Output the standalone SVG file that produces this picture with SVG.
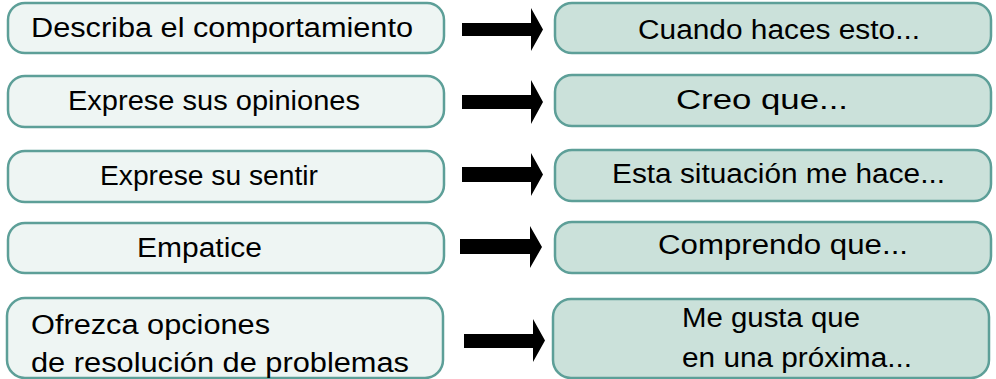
<svg xmlns="http://www.w3.org/2000/svg" width="996" height="379" viewBox="0 0 996 379">
<style>
.l{fill:#eef5f3;stroke:#5d9f98;stroke-width:2.5}
.r{fill:#cbe1da;stroke:#5d9f98;stroke-width:2.5}
.t{font-family:"Liberation Sans",Arial,sans-serif;font-size:27px;fill:#000}
.a{fill:#000}
</style>
<rect width="996" height="379" fill="#fff"/>
<g id="n1"><rect class="l" x="8" y="3" width="436" height="50" rx="17"/><text class="t" x="31" y="37" textLength="382" lengthAdjust="spacingAndGlyphs">Describa el comportamiento</text></g>
<g id="n2"><rect class="l" x="8" y="76" width="436" height="51" rx="17"/><text class="t" x="68" y="110" textLength="292" lengthAdjust="spacingAndGlyphs">Exprese sus opiniones</text></g>
<g id="n3"><rect class="l" x="8" y="151" width="436" height="51" rx="17"/><text class="t" x="100" y="185" textLength="218" lengthAdjust="spacingAndGlyphs">Exprese su sentir</text></g>
<g id="n4"><rect class="l" x="8" y="223" width="436" height="50" rx="17"/><text class="t" x="137" y="257" textLength="125" lengthAdjust="spacingAndGlyphs">Empatice</text></g>
<g id="n5"><rect class="l" x="7" y="298" width="436" height="80" rx="18"/><text class="t" x="31" y="334" textLength="239" lengthAdjust="spacingAndGlyphs">Ofrezca opciones</text><text class="t" x="31" y="372" textLength="378" lengthAdjust="spacingAndGlyphs">de resolución de problemas</text></g>
<g id="m1"><rect class="r" x="555" y="3" width="436" height="50" rx="17"/><text class="t" x="638" y="39" textLength="282" lengthAdjust="spacingAndGlyphs">Cuando haces esto...</text></g>
<g id="m2"><rect class="r" x="555" y="75" width="436" height="51" rx="17"/><text class="t" x="676" y="109" textLength="172" lengthAdjust="spacingAndGlyphs">Creo que...</text></g>
<g id="m3"><rect class="r" x="555" y="150" width="436" height="51" rx="17"/><text class="t" x="612" y="183" textLength="333" lengthAdjust="spacingAndGlyphs">Esta situación me hace...</text></g>
<g id="m4"><rect class="r" x="555" y="222" width="436" height="51" rx="17"/><text class="t" x="658" y="254" textLength="250" lengthAdjust="spacingAndGlyphs">Comprendo que...</text></g>
<g id="m5"><rect class="r" x="553" y="299" width="436" height="79" rx="18"/><text class="t" x="682" y="327" textLength="178" lengthAdjust="spacingAndGlyphs">Me gusta que</text><text class="t" x="682" y="367" textLength="230" lengthAdjust="spacingAndGlyphs">en una próxima...</text></g>
<g id="connectors">
<polygon class="a" points="462,23 531,23 531,8 543,29.5 531,51 531,36 462,36"/>
<polygon class="a" points="462,95 531,95 531,80 543,102 531,124 531,109 462,109"/>
<polygon class="a" points="462,167 531,167 531,153 543,174.5 531,196 531,182 462,182"/>
<polygon class="a" points="460,239 530,239 530,226 542,247 530,268 530,254 460,254"/>
<polygon class="a" points="464,334 533,334 533,319 545,340.5 533,362 533,348 464,348"/>
</g>
</svg>
